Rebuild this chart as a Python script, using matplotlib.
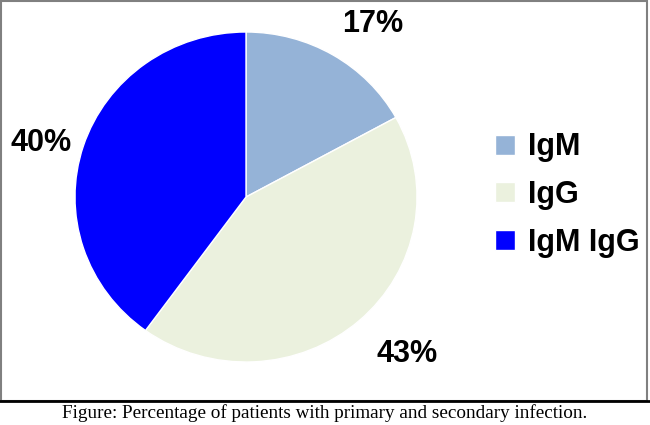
import matplotlib.pyplot as plt
from matplotlib.patches import Rectangle
from matplotlib.lines import Line2D

# dados
categorias = ['IgM', 'IgG', 'IgM IgG']
percentuais = [17, 43, 40]
cores = ['#95B3D7', '#EBF1DE', '#0000FF']
legenda = 'Figure: Percentage of patients with primary and secondary infection.'

# posição dos rótulos (em unidades do raio)
pos_rotulos = [(0.74, 1.05), (0.94, -0.95), (-1.20, 0.325)]

plt.rcParams['font.family'] = ['Liberation Sans', 'DejaVu Sans']

fig = plt.figure(figsize=(6.5, 4.25), dpi=100)

# eixo da pizza: centro ~ (246, 197) px, levemente achatada
ax = fig.add_axes([75 / 650, 63 / 425, 342 / 650, 330 / 425])
fatias, textos, autotextos = ax.pie(
    percentuais,
    colors=cores,
    startangle=90,
    counterclock=False,
    autopct='%.0f%%',
    wedgeprops=dict(edgecolor='white', linewidth=1),
    radius=1,
)
for t, p in zip(autotextos, pos_rotulos):
    t.set_position(p)
    t.set_fontsize(22)
    t.set_fontweight('bold')
    t.set_color('black')
ax.set_xlim(-1, 1)
ax.set_ylim(-1, 1)
ax.set_aspect('auto')

# legenda
fig.legend(
    fatias, categorias,
    loc='center left',
    bbox_to_anchor=(495 / 650, (425 - 195) / 425),
    frameon=False,
    prop=dict(family='Liberation Sans', weight='bold', size=22),
    handlelength=0.65,
    handleheight=0.65,
    handletextpad=0.42,
    labelspacing=0.575,
    borderpad=0,
    borderaxespad=0,
)

# borda do gráfico
fig.add_artist(Rectangle((1 / 650, (425 - 401) / 425), 646 / 650, 400 / 425,
                         transform=fig.transFigure, fill=False,
                         edgecolor='#808080', linewidth=1.5))
fig.add_artist(Line2D([0, 1], [(425 - 401) / 425] * 2,
                      transform=fig.transFigure, color='black', linewidth=2))

# texto da figura
fig.text(0.5, (425 - 413) / 425, legenda, ha='center', va='center',
         family='Liberation Serif', fontsize=13.8)

fig.savefig('out.png', dpi=100)
